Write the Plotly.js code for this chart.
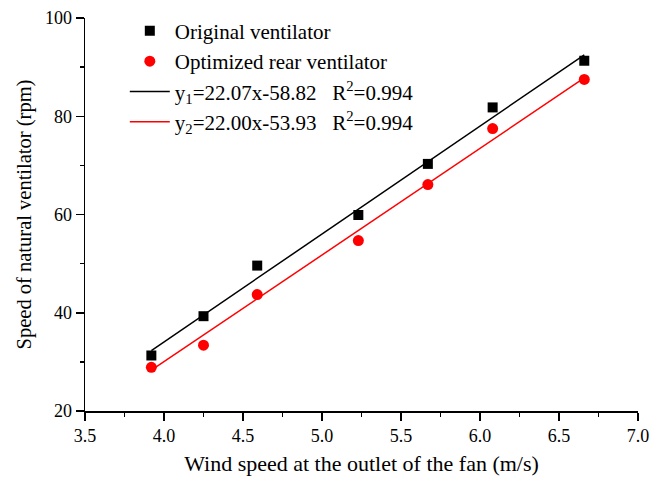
<!DOCTYPE html>
<html>
<head>
<meta charset="utf-8">
<script src="https://cdn.plot.ly/plotly-3.0.1.min.js"></script>
<style>html,body{margin:0;padding:0;background:#fff;}#chart{width:650px;height:482px;}</style>
</head>
<body>
<div id="chart"></div>
<script>
var windSpeed = [3.92, 4.25, 4.59, 5.23, 5.67, 6.08, 6.66];
var originalSpeed = [31.3, 39.3, 49.6, 59.9, 70.3, 81.8, 91.3];
var optimizedSpeed = [28.9, 33.4, 43.7, 54.7, 66.1, 77.5, 87.5];
var fitX = [3.92, 6.66];
var fitOriginal = [32.3, 92.5];
var fitOptimized = [28.3, 87.8];
var names = ["Original ventilator", "Optimized rear ventilator",
  "y<sub>1</sub>=22.07x-58.82   R<sup>2</sup>=0.994",
  "y<sub>2</sub>=22.00x-53.93   R<sup>2</sup>=0.994"];

var fam = "Liberation Serif, Times New Roman, serif";
var tickFont = {family: fam, size: 18, color: "#000"};
var legendFont = {family: fam, size: 21, color: "#000"};
var xTitleFont = {family: fam, size: 22, color: "#000"};
var yTitleFont = {family: fam, size: 20.5, color: "#000"};
var traces = [
  {x: windSpeed, y: originalSpeed, mode: "markers", type: "scatter", name: names[0],
   marker: {symbol: "square", size: 10, color: "#000"}},
  {x: windSpeed, y: optimizedSpeed, mode: "markers", type: "scatter", name: names[1],
   marker: {symbol: "circle", size: 11, color: "#ff0000"}},
  {x: fitX, y: fitOriginal, mode: "lines", type: "scatter", name: names[2],
   line: {color: "#000", width: 1.5}},
  {x: fitX, y: fitOptimized, mode: "lines", type: "scatter", name: names[3],
   line: {color: "#ff0000", width: 1.5}}
];
var axisCommon = {showline: true, linecolor: "#000", linewidth: 1.5, ticks: "outside",
  ticklen: 8, tickwidth: 1.5, tickcolor: "#000", showgrid: false, zeroline: false,
  tickfont: tickFont, mirror: false, ticklabeloverflow: "allow"};
var layout = {
  width: 650, height: 482,
  margin: {l: 85, r: 12, t: 17, b: 71},
  paper_bgcolor: "#fff", plot_bgcolor: "#fff",
  font: tickFont,
  showlegend: true,
  legend: {x: 0.072, y: 1.016, xanchor: "left", yanchor: "top", bgcolor: "rgba(0,0,0,0)",
    font: legendFont, tracegroupgap: 0, itemwidth: 40},
  xaxis: Object.assign({}, axisCommon, {range: [3.5, 7.0], dtick: 0.5, tick0: 3.5,
    tickformat: ".1f",
    minor: {dtick: 0.25, ticks: "outside", ticklen: 4, tickwidth: 1.5, tickcolor: "#000"},
    title: {text: "Wind speed at the outlet of the fan (m/s)", font: xTitleFont, standoff: 10}}),
  yaxis: Object.assign({}, axisCommon, {range: [20, 100], dtick: 20, tick0: 20,
    minor: {dtick: 10, ticks: "outside", ticklen: 4, tickwidth: 1.5, tickcolor: "#000"},
    title: {text: "Speed of natural ventilator (rpm)", font: yTitleFont, standoff: 7}})
};
Plotly.newPlot("chart", traces, layout, {displayModeBar: false, staticPlot: true});
</script>
</body>
</html>
